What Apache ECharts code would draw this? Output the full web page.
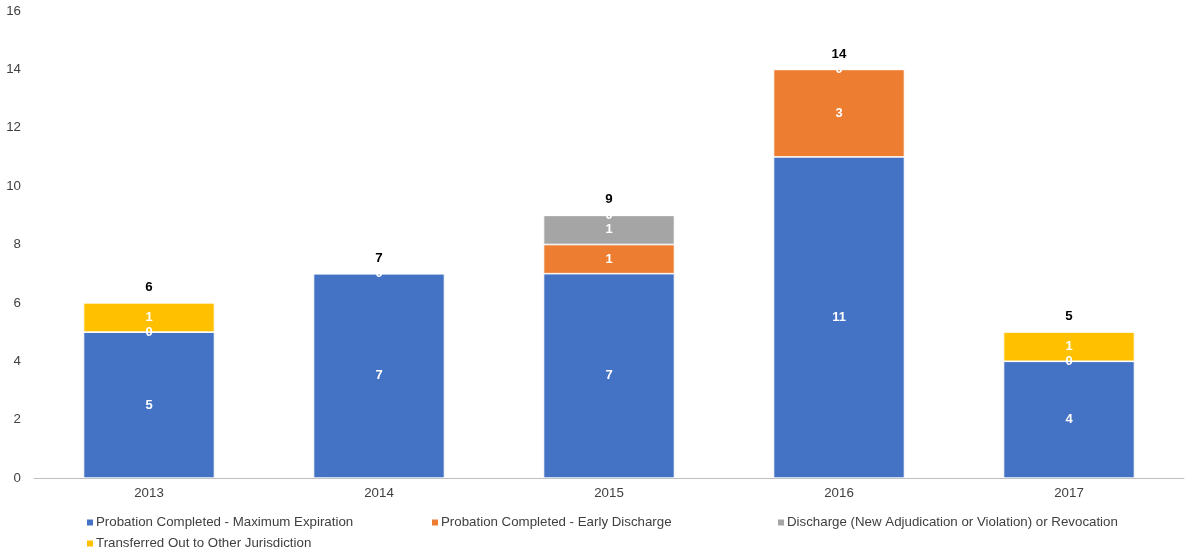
<!DOCTYPE html>
<html><head><meta charset="utf-8">
<script src="https://cdn.jsdelivr.net/npm/echarts@6/dist/echarts.min.js"></script>
<style>html,body{margin:0;padding:0;background:#fff}#c{width:1186px;height:552px}</style>
</head><body><div id="c"></div>
<script>
const years = ['2013','2014','2015','2016','2017'];
const maxExpiration = [5, 7, 7, 11, 4];
const earlyDischarge = [0, 0, 1, 3, 0];
const revocation = [null, null, 1, 0, null];
const transferred = [1, null, 0, null, 1];
const totals = [6, 7, 9, 14, 5];
const seriesNames = ['Probation Completed - Maximum Expiration','Probation Completed - Early Discharge','Discharge (New Adjudication or Violation) or Revocation','Transferred Out to Other Jurisdiction'];
const colors = ['#4472C4','#ED7D31','#A5A5A5','#FFC000'];
const F = '"Liberation Sans", Arial, sans-serif';

const chart = echarts.init(document.getElementById('c'), null, {renderer:'canvas'});
const seg = (name, data, color) => ({
  name, type:'bar', stack:'t', data, barWidth:131,
  itemStyle:{color, borderColor:'#fff', borderWidth:0.75},
  label:{show:true, position:'inside', color:'#fff', fontWeight:'bold', fontSize:13, fontFamily:F},
  emphasis:{disabled:true}
});
const legendPos = [[85,516],[430,516],[776,516],[85,537]];
chart.setOption({
  animation:false,
  textStyle:{fontFamily:F},
  grid:{left:34, right:2, top:11, bottom:74},
  xAxis:{type:'category', data:years,
    axisLine:{lineStyle:{color:'#BFBFBF'}}, axisTick:{show:false},
    axisLabel:{color:'#404040', fontSize:13.3, margin:9, fontFamily:F}},
  yAxis:{type:'value', min:0, max:16, interval:2, splitLine:{show:false},
    axisLine:{show:false}, axisTick:{show:false},
    axisLabel:{color:'#404040', fontSize:13.3, margin:13, fontFamily:F}},
  legend: seriesNames.map((n,i)=>({
    data:[n], left:legendPos[i][0], top:legendPos[i][1], icon:'rect', itemWidth:8, itemHeight:8, itemGap:3,
    selectedMode:false, textStyle:{color:'#404040', fontSize:13.3, fontFamily:F, padding:[0,0,0,-3]}, padding:0
  })),
  series:[
    seg(seriesNames[0], maxExpiration, colors[0]),
    seg(seriesNames[1], earlyDischarge, colors[1]),
    seg(seriesNames[2], revocation, colors[2]),
    seg(seriesNames[3], transferred, colors[3]),
    {name:'Total', type:'bar', stack:'t', data:totals.map(()=>0), barWidth:131,
     itemStyle:{color:'transparent'},
     label:{show:true, position:'top', distance:9, color:'#000', fontWeight:'bold', fontSize:13.3, fontFamily:F,
       formatter:p=>totals[p.dataIndex]}}
  ]
});
</script></body></html>
